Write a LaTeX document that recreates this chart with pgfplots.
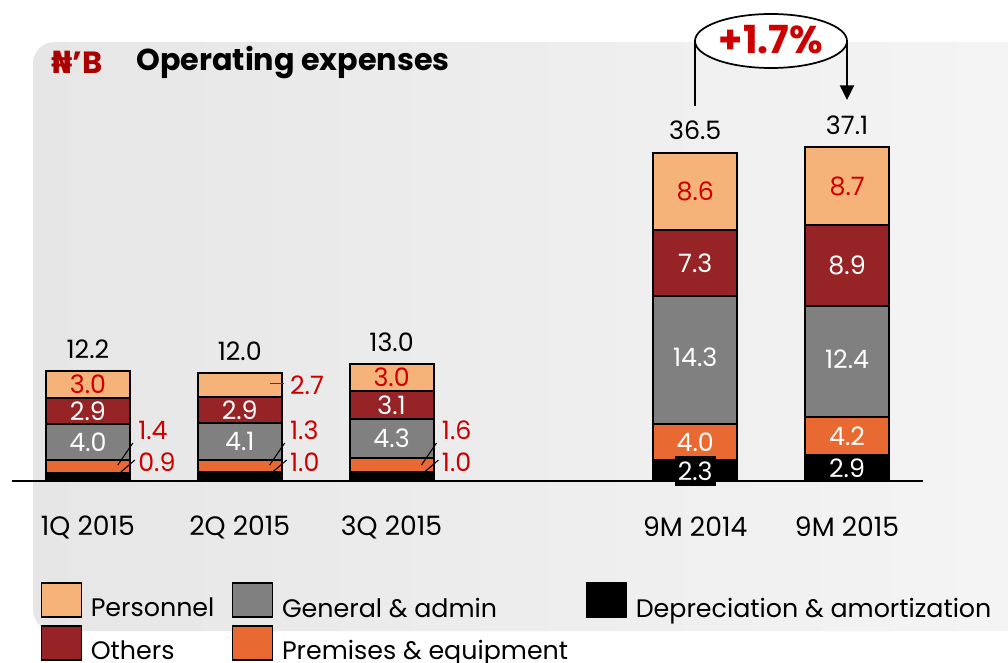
\documentclass[border=0pt]{standalone}
\usepackage{pgfplots}
\pgfplotsset{compat=1.18}
\usetikzlibrary{arrows.meta}
\usepackage{fontspec}
\setmainfont{Poppins}
\newfontfamily\dejavu{DejaVu Sans}
\definecolor{pers}{RGB}{245,179,121}
\definecolor{oth}{RGB}{150,36,39}
\definecolor{gna}{RGB}{128,128,128}
\definecolor{prem}{RGB}{232,105,50}
\definecolor{redtxt}{RGB}{204,0,0}
\definecolor{titlered}{RGB}{170,0,0}
\definecolor{bgl}{RGB}{230,230,230}
\definecolor{bgr}{RGB}{245,245,245}
\newcommand\lbfont{\fontsize{19}{21}\selectfont}
\newcommand\seglab[4]{\node[font=\lbfont, text=#4] at (axis cs:#1,#2) {#3};}
\newcommand\totlab[2]{\node[font=\lbfont, anchor=base, yshift=9.5pt] at (axis cs:#1,#2) {#2};}
\newcommand\outlab[3]{\node[font=\lbfont, text=redtxt, anchor=west, inner sep=0pt] at (axis cs:#1,#2) {#3};}
\newcommand\myticks[1]{%
  \draw[black, line width=0.8pt] (axis cs:#1+0.197,1.78) -- (axis cs:#1+0.296,4.22);
  \draw[black, line width=0.8pt] (axis cs:#1+0.217,1.0) -- (axis cs:#1+0.309,2.33);}
\pgfplotsset{frame/.style={
  at={(9pt,-360.75pt)}, anchor=south west,
  scale only axis, width=683.25pt, height=270pt,
  xmin=-0.5, xmax=5.5, ymin=0, ymax=40, clip=false}}
\begin{document}
\begin{tikzpicture}
\useasboundingbox (0pt,0pt) rectangle (756pt,-497.25pt);
\begin{scope}[x=0.75pt,y=-0.75pt]
\clip (0,0) rectangle (1008,663);
\shade[left color=bgl, right color=bgr, rounded corners=16pt] (33,42) rectangle (1060,631);
\end{scope}
\begin{axis}[
  frame,
  axis x line=bottom, axis y line=none,
  x axis line style={-, line width=1.5pt},
  ybar stacked, bar width=63pt, bar shift=0pt,
  xtick={0,1,2,4,5},
  xticklabels={1Q 2015,2Q 2015,3Q 2015,9M 2014,9M 2015},
  major tick length=0pt,
  xticklabel style={font=\fontsize{20}{22}\selectfont, anchor=center, yshift=-34.5pt},
  every axis plot/.append style={draw=black, line width=1.5pt},
  legend image code/.code={\draw[#1,draw=black,line width=1.2pt] (0pt,-6.5pt) rectangle (30pt,19pt);},
  legend columns=3,
  legend style={at={(0.031,-0.281)}, anchor=north west, draw=none, fill=none,
    inner sep=0pt, font=\fontsize{19}{21}\selectfont, row sep=2.5pt,
    /tikz/every odd column/.style={column sep=4.5pt},
    /tikz/every even column/.style={column sep=11pt}, cells={anchor=west}},
]
\addplot[fill=black, forget plot] coordinates {(0,0.9) (1,1.0) (2,1.0) (4,2.3) (5,2.9)};
\addplot[fill=prem, forget plot] coordinates {(0,1.4) (1,1.3) (2,1.6) (4,4.0) (5,4.2)};
\addplot[fill=gna, forget plot] coordinates {(0,4.0) (1,4.1) (2,4.3) (4,14.3) (5,12.4)};
\addplot[fill=oth, forget plot] coordinates {(0,2.9) (1,2.9) (2,3.1) (4,7.3) (5,8.9)};
\addplot[fill=pers, forget plot] coordinates {(0,3.0) (1,2.7) (2,3.0) (4,8.6) (5,8.7)};

\addlegendimage{fill=pers}
\addlegendimage{fill=gna}
\addlegendimage{fill=black}
\addlegendimage{fill=oth}
\addlegendimage{fill=prem}
\legend{Personnel, General \& admin, Depreciation \& amortization, Others, Premises \& equipment}
\end{axis}
\begin{axis}[frame, hide axis]
\addplot[draw=none, forget plot] coordinates {(0,0) (5,0)};
\totlab{0}{12.2}
\totlab{1}{12.0}
\totlab{2}{13.0}
\totlab{4}{36.5}
\totlab{5}{37.1}
% inside labels
\seglab{0}{10.7}{3.0}{redtxt}
\seglab{0}{7.75}{2.9}{white}
\seglab{0}{4.3}{4.0}{white}
\seglab{1}{7.85}{2.9}{white}
\seglab{1}{4.35}{4.1}{white}
\seglab{2}{11.5}{3.0}{redtxt}
\seglab{2}{8.45}{3.1}{white}
\seglab{2}{4.75}{4.3}{white}
\seglab{4}{32.2}{8.6}{redtxt}
\seglab{4}{24.25}{7.3}{white}
\seglab{4}{13.8}{14.3}{white}
\seglab{4}{4.3}{4.0}{white}
\node[font=\lbfont, text=white, fill=black, inner xsep=2.5pt, inner ysep=4pt] at (axis cs:4,1.1) {2.3};
\seglab{5}{32.75}{8.7}{redtxt}
\seglab{5}{23.95}{8.9}{white}
\seglab{5}{13.5}{12.4}{white}
\seglab{5}{5.0}{4.2}{white}
\seglab{5}{1.45}{2.9}{white}
% outside labels
\outlab{0.33}{5.67}{1.4}
\outlab{0.33}{2.1}{0.9}
\outlab{1.33}{10.67}{2.7}
\outlab{1.33}{5.67}{1.3}
\outlab{1.33}{2.1}{1.0}
\outlab{2.33}{5.67}{1.6}
\outlab{2.33}{2.1}{1.0}
\myticks{0}\myticks{1}\myticks{2}
\draw[black!75, line width=1pt] (axis cs:1.197,10.8) -- (axis cs:1.29,10.8);
\end{axis}
\begin{scope}[x=0.75pt,y=-0.75pt]
\node[anchor=west, text=titlered, inner sep=0pt, font=\bfseries\fontsize{23}{25}\selectfont] at (51,62) {{\dejavu\bfseries ₦}’B};
\node[anchor=west, inner sep=0pt, font=\bfseries\fontsize{22.7}{25}\selectfont] at (136,63) {Operating expenses};
\draw[line width=1.5pt] (695,41) -- (695,106);
\draw[line width=1.5pt, -{Triangle[width=10.5pt,length=11pt]}] (847,41) -- (847,100);
\draw[line width=1.3pt, fill=white] (771,41) ellipse [x radius=76, y radius=27];
\node[text=redtxt, font=\bfseries\fontsize{29}{31}\selectfont] at (771,40) {+1.7\%};
\end{scope}
\end{tikzpicture}
\end{document}
